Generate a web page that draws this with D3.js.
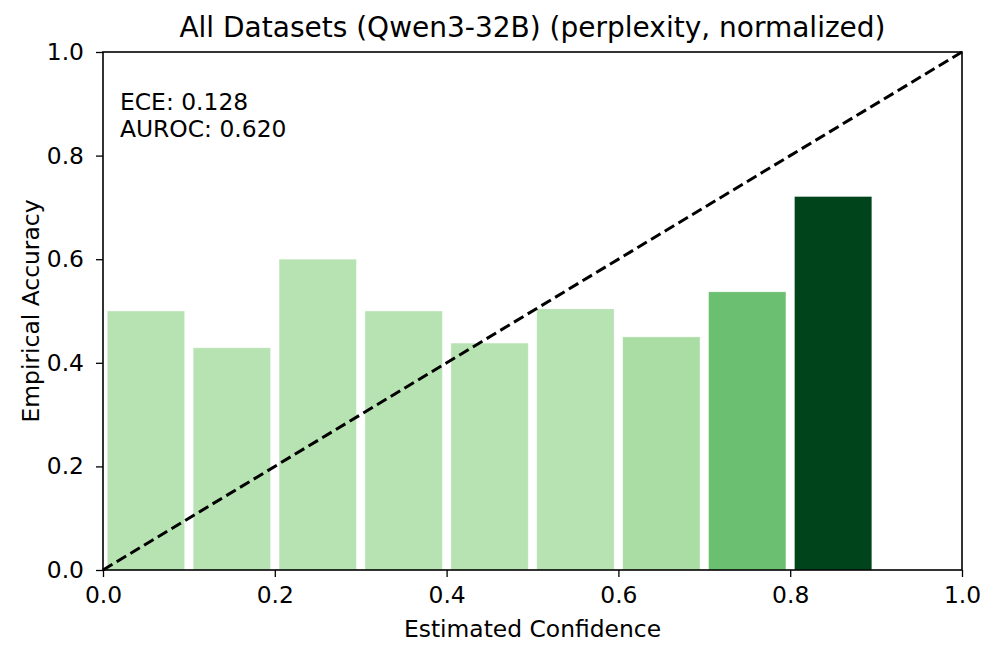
<!DOCTYPE html>
<html>
<head>
<script src="https://cdn.jsdelivr.net/npm/d3@7"></script>
<style>
  body { margin: 0; background: #fff; }
  text { font-family: "DejaVu Sans", sans-serif; }
</style>
</head>
<body>
<div id="chart"></div>
<script>
var binCenters = [0.05, 0.15, 0.25, 0.35, 0.45, 0.55, 0.65, 0.75, 0.85];
var accuracy = [0.500, 0.429, 0.600, 0.500, 0.438, 0.504, 0.450, 0.537, 0.721];
var barColors = ["#b7e2b1", "#b7e2b1", "#b7e2b1", "#b7e2b1", "#b7e2b1", "#b7e2b1", "#aadda4", "#6bbf70", "#00441b"];
var ticks = [0, 0.2, 0.4, 0.6, 0.8, 1.0];
var statLines = ["ECE: 0.128", "AUROC: 0.620"];

var width = 998, height = 658;
var m = {left: 103, right: 36, top: 52, bottom: 88};
var fs = 23.4;

var svg = d3.select("#chart").append("svg")
  .attr("width", width)
  .attr("height", height);

var x = d3.scaleLinear().domain([0, 1]).range([m.left, width - m.right]);
var y = d3.scaleLinear().domain([0, 1]).range([height - m.bottom, m.top]);
var binW = 0.09;

svg.selectAll("rect.bar")
  .data(binCenters)
  .enter()
  .append("rect")
  .attr("class", "bar")
  .attr("x", function (d) { return x(d - binW / 2); })
  .attr("width", function (d) { return x(binW) - x(0); })
  .attr("y", function (d, i) { return y(accuracy[i]); })
  .attr("height", function (d, i) { return y(0) - y(accuracy[i]); })
  .attr("fill", function (d, i) { return barColors[i]; })
  .attr("stroke", "#ffffff")
  .attr("stroke-width", 0.8)
  .attr("stroke-opacity", 0.4);

// perfect calibration
svg.append("line")
  .attr("x1", x(0)).attr("y1", y(0))
  .attr("x2", x(1)).attr("y2", y(1))
  .attr("stroke", "#000")
  .attr("stroke-width", 3)
  .attr("stroke-dasharray", "11,5");

// frame
svg.append("rect")
  .attr("x", x(0)).attr("y", y(1))
  .attr("width", x(1) - x(0)).attr("height", y(0) - y(1))
  .attr("fill", "none").attr("stroke", "#000").attr("stroke-width", 1.6);

var xAxis = svg.append("g")
  .attr("transform", "translate(0," + y(0) + ")")
  .call(d3.axisBottom(x).tickValues(ticks).tickFormat(d3.format(".1f")).tickSize(7).tickPadding(9));
var yAxis = svg.append("g")
  .attr("transform", "translate(" + x(0) + ",0)")
  .call(d3.axisLeft(y).tickValues(ticks).tickFormat(d3.format(".1f")).tickSize(7).tickPadding(12));

[xAxis, yAxis].forEach(function (g) {
  g.attr("font-size", null).attr("font-family", null);
  g.select(".domain").remove();
  g.selectAll("line").attr("stroke", "#000").attr("stroke-width", 1.3);
  g.selectAll("text").attr("fill", "#000").style("font-size", fs + "px");
});

svg.append("text")
  .attr("x", (x(0) + x(1)) / 2).attr("y", 37)
  .attr("text-anchor", "middle")
  .style("font-size", "28px")
  .text("All Datasets (Qwen3-32B) (perplexity, normalized)");

svg.append("text")
  .attr("x", (x(0) + x(1)) / 2).attr("y", 637)
  .attr("text-anchor", "middle")
  .style("font-size", fs + "px")
  .text("Estimated Confidence");

svg.append("text")
  .attr("transform", "translate(39," + (y(0) + y(1)) / 2 + ") rotate(-90)")
  .attr("text-anchor", "middle")
  .style("font-size", fs + "px")
  .text("Empirical Accuracy");

svg.selectAll("text.stat")
  .data(statLines)
  .enter()
  .append("text")
  .attr("class", "stat")
  .attr("x", 120)
  .attr("y", function (d, i) { return 110 + i * 27; })
  .style("font-size", fs + "px")
  .text(function (d) { return d; });
</script>
</body>
</html>
